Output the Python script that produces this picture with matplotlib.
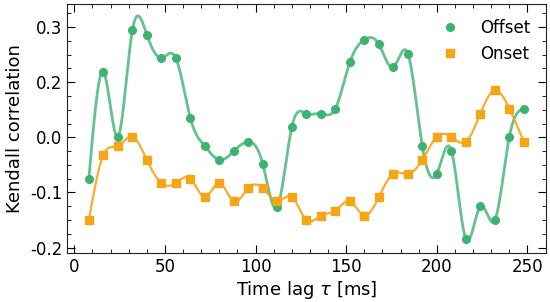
import numpy as np
import matplotlib
matplotlib.use("Agg")
import matplotlib.pyplot as plt
from matplotlib.ticker import MultipleLocator, FixedLocator, FixedFormatter

# Time lags (ms) and correlation values
lag = np.arange(8, 249, 8)
offset = [-0.075, 0.119, 0.001, 0.194, 0.186, 0.144, 0.144, 0.035, -0.016, -0.041,
          -0.025, -0.008, -0.049, -0.126, 0.019, 0.043, 0.043, 0.052, 0.136, 0.177,
          0.169, 0.127, 0.152, -0.016, -0.066, -0.024, -0.184, -0.125, -0.150, 0.001,
          0.052]
onset = [-0.150, -0.032, -0.016, 0.001, -0.041, -0.083, -0.083, -0.075, -0.108, -0.083,
         -0.116, -0.092, -0.092, -0.116, -0.108, -0.150, -0.142, -0.133, -0.116, -0.142,
         -0.108, -0.066, -0.066, -0.041, 0.001, 0.001, -0.008, 0.043, 0.085, 0.052,
         -0.008]

ytick_pos = [-0.2, -0.1, 0.0, 0.1, 0.2]
ytick_labels = ['-0.2', '-0.1', '0.0', '0.2', '0.3']

green = '#3cb371'
orange = '#f5a516'


def spline(x, y, n=600):
    # natural cubic spline through the points
    x = np.asarray(x, float)
    y = np.asarray(y, float)
    h = np.diff(x)
    m = len(x)
    A = np.zeros((m, m))
    b = np.zeros(m)
    A[0, 0] = A[-1, -1] = 1
    for i in range(1, m - 1):
        A[i, i - 1] = h[i - 1]
        A[i, i] = 2 * (h[i - 1] + h[i])
        A[i, i + 1] = h[i]
        b[i] = 3 * ((y[i + 1] - y[i]) / h[i] - (y[i] - y[i - 1]) / h[i - 1])
    c = np.linalg.solve(A, b)
    xs = np.linspace(x[0], x[-1], n)
    k = np.clip(np.searchsorted(x, xs) - 1, 0, m - 2)
    dx = xs - x[k]
    bb = (y[k + 1] - y[k]) / h[k] - h[k] * (2 * c[k] + c[k + 1]) / 3
    d = (c[k + 1] - c[k]) / (3 * h[k])
    return xs, y[k] + bb * dx + c[k] * dx ** 2 + d * dx ** 3


plt.rcParams.update({'font.size': 12, 'axes.edgecolor': '#222222'})

fig = plt.figure(figsize=(5.5, 3.02), dpi=100)
ax = fig.add_axes([0.122, 0.162, 0.87, 0.825])

xs, ys = spline(lag, offset)
ax.plot(xs, ys, color=green, lw=2, alpha=0.8)
xs, ys = spline(lag, onset)
ax.plot(xs, ys, color=orange, lw=1.6, alpha=0.9)
ax.plot(lag, offset, 'o', color=green, ms=5.5, label='Offset')
ax.plot(lag, onset, 's', color=orange, ms=5.5, label='Onset')

ax.set_xlim(-4, 260)
ax.set_ylim(-0.21, 0.242)
ax.xaxis.set_major_locator(MultipleLocator(50))
ax.xaxis.set_minor_locator(MultipleLocator(10))
ax.yaxis.set_major_locator(FixedLocator(ytick_pos))
ax.yaxis.set_major_formatter(FixedFormatter(ytick_labels))
ax.yaxis.set_minor_locator(MultipleLocator(0.025))
ax.tick_params(which='both', direction='in', top=True, right=True, labelsize=12)
ax.tick_params(which='major', length=6)
ax.tick_params(which='minor', length=3)

ax.set_xlabel(r'Time lag $\tau$ [ms]', fontsize=13, labelpad=2)
ax.set_ylabel('Kendall correlation', fontsize=13)
ax.legend(loc='upper right', frameon=False, handletextpad=0.8, fontsize=12)

fig.savefig('out.png', dpi=100)
